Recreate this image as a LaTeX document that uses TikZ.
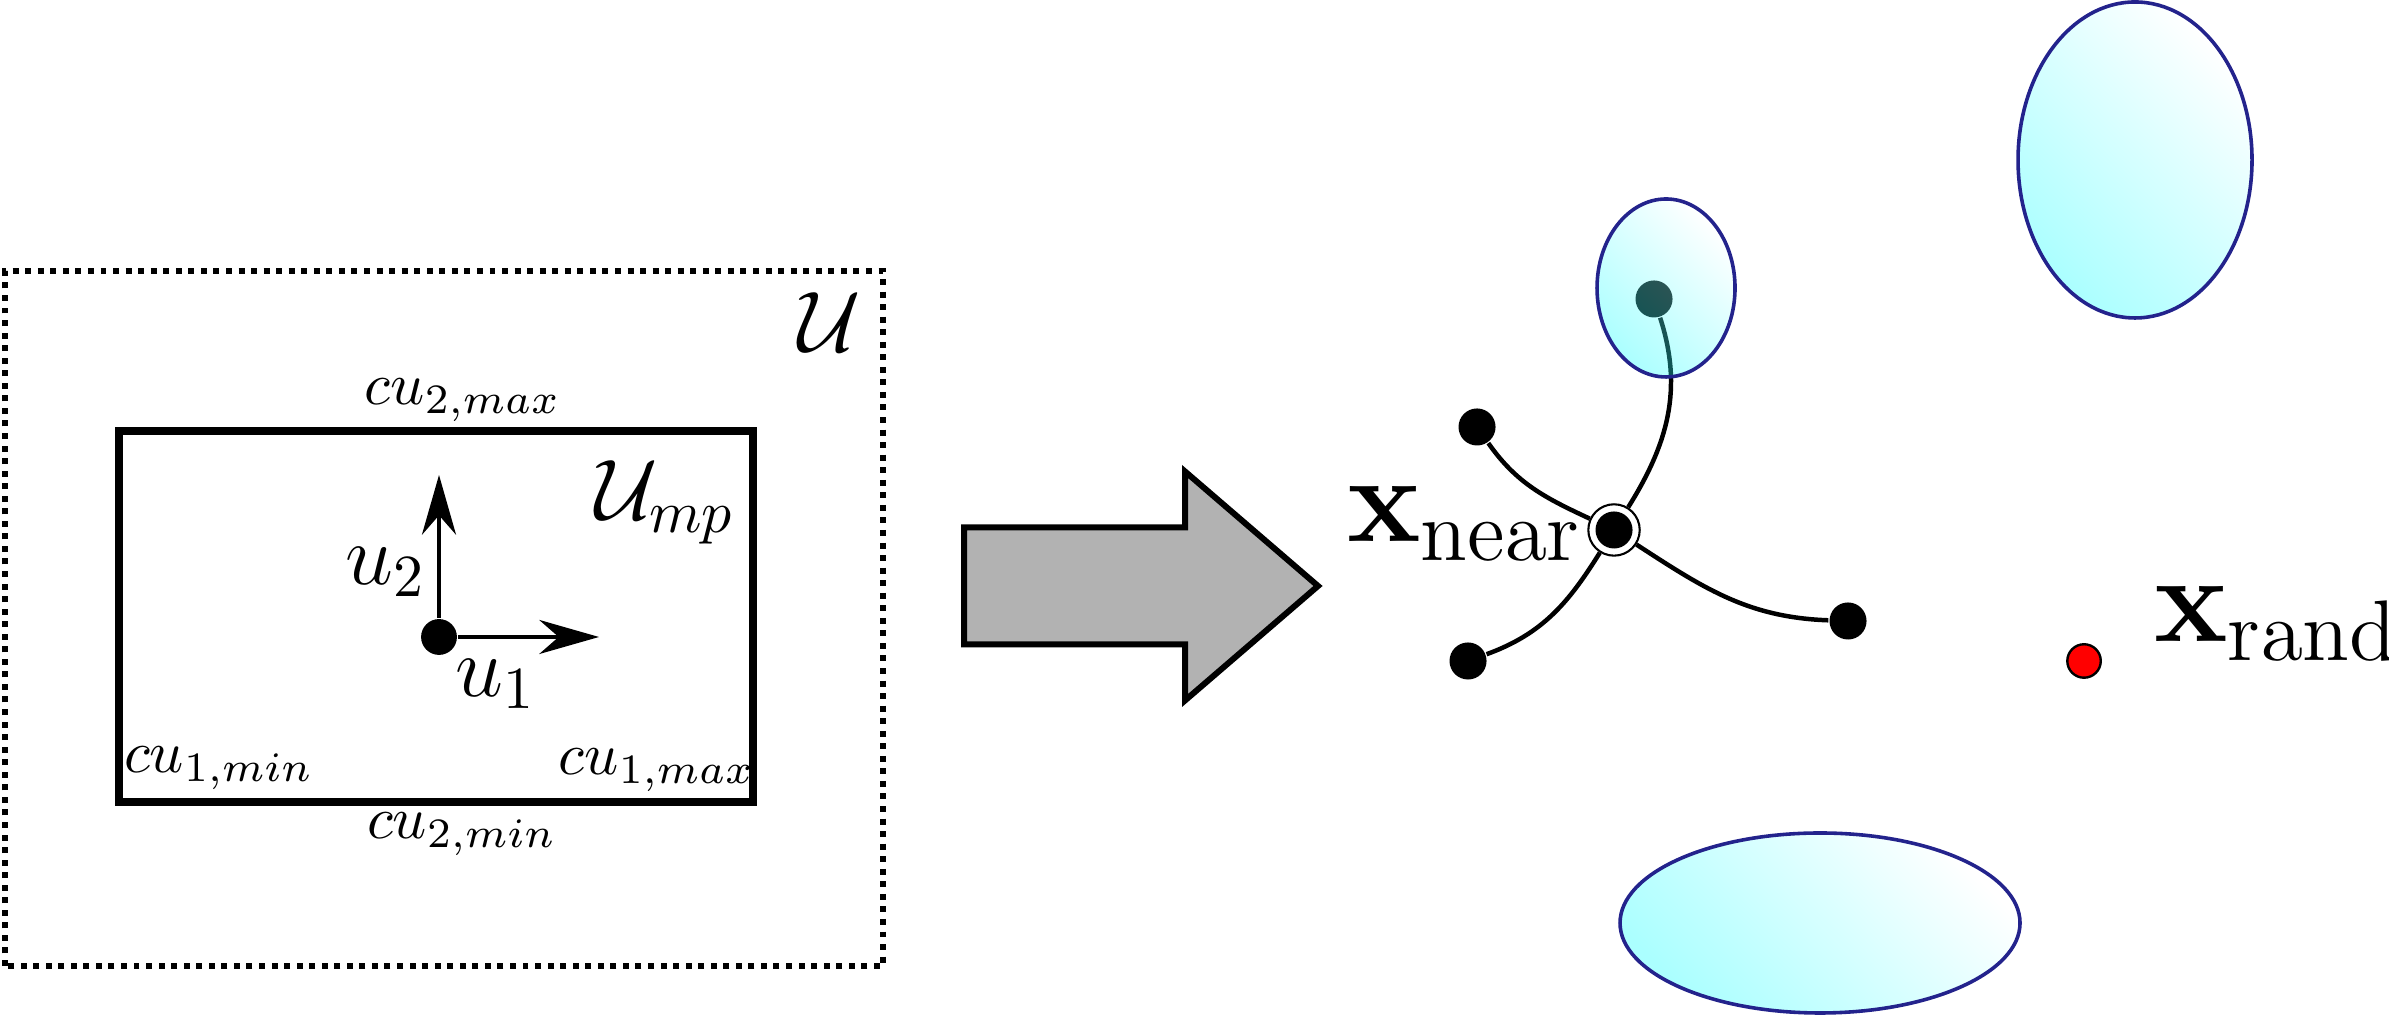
\documentclass[tikz,border=0pt]{standalone}
\usetikzlibrary{arrows.meta}
\definecolor{obsline}{RGB}{35,35,140}
\tikzset{
  pt/.style={circle,fill=black,inner sep=0pt,minimum size=6.2pt},
  ring/.style={circle,draw=black,fill=white,line width=0.35pt,inner sep=0pt,minimum size=8.6pt},
  randpt/.style={circle,draw=black,fill=red,line width=0.4pt,inner sep=0pt,minimum size=5.6pt},
  obs/.style={draw=obsline,line width=0.6pt,top color=white,bottom color=cyan,shading angle=-45,fill opacity=0.33},
  edge/.style={line width=0.75pt},
  vec/.style={line width=0.65pt,-{Stealth[length=10pt,width=5.7pt]}},
  lbl/.style={inner sep=0pt}
}
\begin{document}
\begin{tikzpicture}[x=0.5882cm,y=0.5882cm]
\useasboundingbox (0,0) rectangle (23.89,10.15);

% control set U and the box U_mp
\draw[line width=1.1pt,dash pattern=on 1pt off 1.1pt] (0.05,0.49) rectangle (8.83,7.44);
\node[lbl,font=\Large] (U) at (8.30,6.93) {$\mathcal{U}$};
\draw[line width=1.3pt] (1.19,2.13) rectangle (7.53,5.84);
\node[lbl,font=\Large] (Ump) at (6.65,5.13) {$\mathcal{U}_{mp}$};
\node[lbl] (c2max) at (4.63,6.15) {$cu_{2,max}$};
\node[lbl] (c2min) at (4.62,1.81) {$cu_{2,min}$};
\node[lbl] (c1min) at (2.19,2.47) {$cu_{1,min}$};
\node[lbl] (c1max) at (6.57,2.45) {$cu_{1,max}$};

% input axes
\node[pt,minimum size=6pt] (ctrl) at (4.39,3.78) {};
\coordinate (u1tip) at (5.99,3.78);
\coordinate (u2tip) at (4.39,5.40);
\draw[vec] (ctrl) -- (u1tip);
\draw[vec] (ctrl) -- (u2tip);
\node[lbl,font=\Large] (u2) at (3.86,4.43) {$u_2$};
\node[lbl,font=\Large] (u1) at (4.96,3.31) {$u_1$};

% big arrow
\draw[line width=1pt,fill=black!30] (9.64,3.705) -- (9.64,4.875) -- (11.85,4.875) -- (11.85,5.435)
  -- (13.18,4.29) -- (11.85,3.145) -- (11.85,3.705) -- cycle;

% tree
\node[pt] (ul) at (14.77,5.88) {};
\node[pt] (ll) at (14.68,3.54) {};
\node[pt] (rt) at (18.48,3.94) {};
\node[pt] (goal) at (16.54,7.16) {};
\node[ring] (near) at (16.14,4.85) {};
\node[pt] (nearc) at (near) {};
\draw[edge] (near) to[out=155,in=-55] (ul);
\draw[edge] (near) to[out=-122,in=20] (ll);
\draw[edge] (near) to[out=-33,in=178] (rt);
\draw[edge] (near) to[out=58,in=-72] (goal);
\node[lbl,font=\huge,anchor=base east] (xnear) at (15.84,4.73) {$\mathbf{x}_{\mathrm{near}}$};

% obstacles
\shadedraw[obs] (16.66,7.27) ellipse [x radius=0.69, y radius=0.89];
\shadedraw[obs] (21.35,8.55) ellipse [x radius=1.17, y radius=1.58];
\shadedraw[obs] (18.20,0.92) ellipse [x radius=2.00, y radius=0.90];

% random sample
\node[randpt] (xrand) at (20.84,3.54) {};
\node[lbl,font=\huge,anchor=base west] (xrandlbl) at (21.53,3.73) {$\mathbf{x}_{\mathrm{rand}}$};

\end{tikzpicture}
\end{document}
